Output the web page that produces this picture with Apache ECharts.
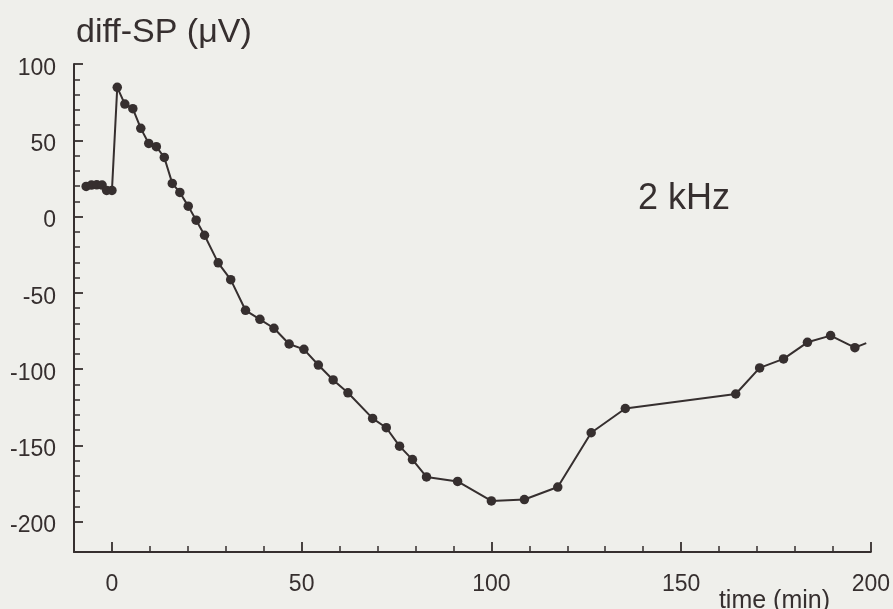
<!DOCTYPE html>
<html>
<head>
<meta charset="utf-8">
<script src="https://cdn.jsdelivr.net/npm/echarts@6/dist/echarts.min.js"></script>
<style>
  html, body { margin: 0; padding: 0; background: #efefeb; }
  #chart { width: 893px; height: 609px; }
</style>
</head>
<body>
<div id="chart"></div>
<script>
// Differential summating potential over time (2 kHz stimulus)
const timeMin = [-6.8, -5.4, -4.0, -2.6, -1.4, 0, 1.4, 3.4, 5.5, 7.6, 9.7, 11.7, 13.8, 15.9,
  17.9, 20.1, 22.2, 24.4, 28.0, 31.3, 35.2, 39.0, 42.7, 46.7, 50.6, 54.4, 58.3, 62.2,
  68.7, 72.3, 75.8, 79.2, 82.9, 91.1, 100.0, 108.7, 117.5, 126.3, 135.3, 164.4, 170.7,
  177.0, 183.3, 189.4, 195.8, 198.8];
const diffSP = [19.7, 20.6, 20.8, 20.6, 17.1, 17.1, 84.7, 73.7, 70.7, 57.8, 47.9, 45.8, 38.7, 21.7,
  15.8, 6.8, -2.4, -12.3, -30.4, -41.4, -61.5, -67.4, -73.3, -83.6, -87.1, -97.4, -107.2, -115.6,
  -132.4, -138.5, -150.6, -159.4, -170.8, -173.7, -186.5, -185.6, -177.4, -141.8, -125.9, -116.4, -99.3,
  -93.4, -82.5, -78.1, -86.0, -83.0];

const xMajorTicks = [0, 50, 100, 150, 200];
const xMinorTicks = [10, 20, 30, 40, 60, 70, 80, 90, 110, 120, 130, 140, 160, 170, 180, 190];
const yMajorTicks = [-200, -150, -100, -50, 0, 50, 100];
const yMinorTicks = [-190, -180, -170, -160, -140, -130, -120, -110, -90, -80, -70, -60,
  -40, -30, -20, -10, 10, 20, 30, 40, 60, 70, 80, 90];

const ink = '#362f2f';
const font = '"Liberation Sans", Arial, Helvetica, sans-serif';

const points = timeMin.map((t, i) => {
  const item = { value: [t, diffSP[i]] };
  if (i === timeMin.length - 1) item.symbol = 'none';
  return item;
});

const chart = echarts.init(document.getElementById('chart'), null, { renderer: 'canvas' });

const xBase = { type: 'value', min: -10, max: 200, position: 'bottom', splitLine: { show: false } };
const yBase = { type: 'value', min: -220, max: 100, position: 'left', splitLine: { show: false } };

chart.setOption({
  backgroundColor: '#efefeb',
  animation: false,
  grid: { left: 74, right: 22, top: 64, bottom: 57, containLabel: false },
  title: [
    { text: 'diff-SP (μV)', left: 71, top: 11,
      textStyle: { fontFamily: font, fontSize: 34, fontWeight: 'normal', color: ink } },
    { text: '2 kHz', left: 633, top: 176,
      textStyle: { fontFamily: font, fontSize: 36, fontWeight: 'normal', color: ink } },
    { text: 'time (min)', right: 58, top: 584,
      textStyle: { fontFamily: font, fontSize: 25, fontWeight: 'normal', color: ink } }
  ],
  xAxis: [
    Object.assign({}, xBase, {
      axisLine: { show: true, onZero: false, lineStyle: { color: ink, width: 2 } },
      axisTick: { show: true, inside: true, length: 10, customValues: xMajorTicks,
        lineStyle: { color: ink, width: 1.8 } },
      axisLabel: { show: true, customValues: xMajorTicks, margin: 21,
        fontFamily: font, fontSize: 23, color: ink }
    }),
    Object.assign({}, xBase, {
      axisLine: { show: false, onZero: false },
      axisTick: { show: true, inside: true, length: 6, customValues: xMinorTicks,
        lineStyle: { color: ink, width: 1.5 } },
      axisLabel: { show: false }
    })
  ],
  yAxis: [
    Object.assign({}, yBase, {
      axisLine: { show: true, onZero: false, lineStyle: { color: ink, width: 2 } },
      axisTick: { show: true, inside: true, length: 9, customValues: yMajorTicks,
        lineStyle: { color: ink, width: 1.8 } },
      axisLabel: { show: true, customValues: yMajorTicks, margin: 18,
        formatter: '{v|{value}}',
        rich: { v: { fontFamily: font, fontSize: 23, color: ink, padding: [9, 0, 0, 0] } } }
    }),
    Object.assign({}, yBase, {
      axisLine: { show: false, onZero: false },
      axisTick: { show: true, inside: true, length: 6, customValues: yMinorTicks,
        lineStyle: { color: ink, width: 1.5 } },
      axisLabel: { show: false }
    })
  ],
  series: [{
    type: 'line',
    xAxisIndex: 0,
    yAxisIndex: 0,
    data: points,
    symbol: 'circle',
    symbolSize: 9.5,
    itemStyle: { color: ink },
    lineStyle: { color: ink, width: 2 },
    clip: false
  }]
});
</script>
</body>
</html>
